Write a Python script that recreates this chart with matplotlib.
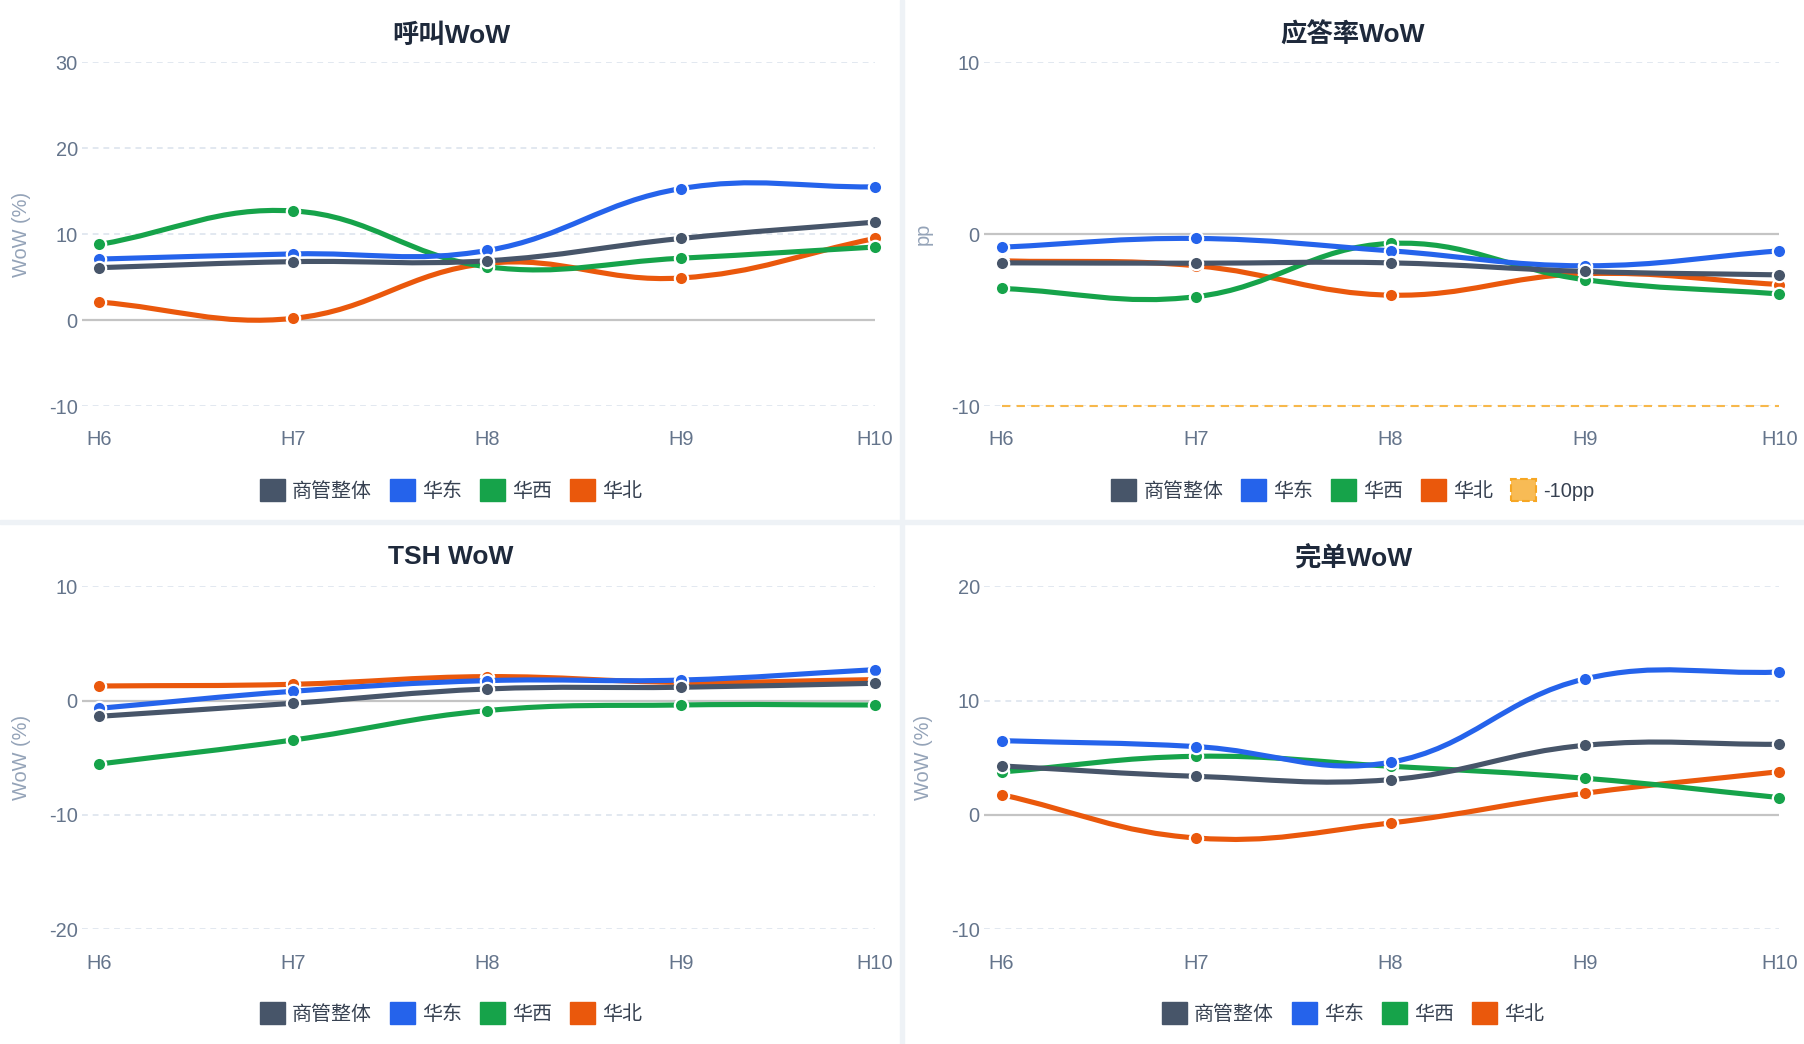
import numpy as np
import matplotlib
matplotlib.use('Agg')
import matplotlib.pyplot as plt
from matplotlib.path import Path
from matplotlib.patches import PathPatch, Patch, Rectangle

plt.rcParams['font.family'] = ['Liberation Sans', 'Noto Sans CJK SC', 'DejaVu Sans']
plt.rcParams['axes.unicode_minus'] = False

# ---- data ----
hours = ['H6', 'H7', 'H8', 'H9', 'H10']
series_names = ['商管整体', '华东', '华西', '华北']
series_colors = ['#475569', '#2563eb', '#16a34a', '#ea580c']

# rows: 商管整体, 华东, 华西, 华北
call_wow = [
    [6.1, 6.8, 6.9, 9.5, 11.4],
    [7.1, 7.7, 8.1, 15.3, 15.5],
    [8.8, 12.7, 6.2, 7.2, 8.5],
    [2.1, 0.2, 6.6, 4.9, 9.5],
]
answer_wow = [
    [-1.67, -1.69, -1.67, -2.17, -2.37],
    [-0.76, -0.25, -0.97, -1.84, -0.97],
    [-3.16, -3.64, -0.54, -2.65, -3.48],
    [-1.55, -1.84, -3.55, -2.3, -2.93],
]
answer_threshold = [-10, -10, -10, -10, -10]
tsh_wow = [
    [-1.37, -0.23, 1.02, 1.17, 1.52],
    [-0.67, 0.82, 1.75, 1.8, 2.71],
    [-5.54, -3.44, -0.87, -0.38, -0.38],
    [1.28, 1.43, 2.1, 1.6, 1.84],
]
order_wow = [
    [4.29, 3.38, 3.09, 6.09, 6.18],
    [6.5, 5.98, 4.61, 11.9, 12.5],
    [3.76, 5.13, 4.26, 3.21, 1.52],
    [1.78, -2.01, -0.7, 1.9, 3.79],
]

W, H = 1804, 1044
fig = plt.figure(figsize=(W / 100, H / 100), dpi=100)
fig.patch.set_facecolor('white')

FS = 14.4
TICK_C = '#64748b'
YLAB_C = '#94a3b8'


def make_axes(left, top, right, bottom):
    return fig.add_axes([left / W, 1 - bottom / H, (right - left) / W, (bottom - top) / H])


def smooth_line(ax, xs, ys, color, lw, z, tension=0.4, **kw):
    # chart.js style bezier through the points, computed in pixel space
    px = ax.transData.transform(np.column_stack([xs, ys]))
    n = len(px)
    cps = []
    for i in range(n):
        cur = px[i]
        prev = px[i - 1] if i > 0 else cur
        nxt = px[i + 1] if i < n - 1 else cur
        d01 = np.hypot(*(cur - prev))
        d12 = np.hypot(*(nxt - cur))
        tot = d01 + d12
        s01 = d01 / tot if tot else 0
        s12 = d12 / tot if tot else 0
        cps.append((cur - tension * s01 * (nxt - prev), cur + tension * s12 * (nxt - prev)))
    verts = [px[0]]
    codes = [Path.MOVETO]
    for i in range(1, n):
        verts += [cps[i - 1][1], cps[i][0], px[i]]
        codes += [Path.CURVE4] * 3
    verts = ax.transData.inverted().transform(np.array(verts))
    patch = PathPatch(Path(verts, codes), facecolor='none', edgecolor=color, lw=lw,
                      zorder=z, clip_on=False, capstyle='round', joinstyle='round', **kw)
    ax.add_patch(patch)


def panel(box, title, data, ylim, ylabel, center_x, title_y, legend_y, extra=None):
    ax = make_axes(*box)
    ax.set_xlim(-0.09, 4)
    ax.set_ylim(*ylim)
    ticks = np.arange(ylim[0], ylim[1] + 1, 10)
    ax.set_yticks(ticks)
    ax.set_xticks(range(len(hours)))
    ax.set_xticklabels(hours)
    for s in ax.spines.values():
        s.set_visible(False)
    ax.tick_params(axis='both', length=0, labelsize=FS, labelcolor=TICK_C)
    ax.tick_params(axis='x', pad=17.5)
    ax.tick_params(axis='y', pad=3)
    for t in ticks:
        if t == 0:
            ax.axhline(0, color='#c4c4c4', lw=1.6, zorder=2)
        else:
            ax.axhline(t, color='#e2e8f0', lw=1.4, dashes=(3, 2.5), zorder=1)
    ax.set_ylabel(ylabel, fontsize=FS, color=YLAB_C)
    panel_left = center_x - 451
    ax.yaxis.set_label_coords((panel_left + 31 - box[0]) / (box[2] - box[0]), 0.5)
    xs = np.arange(len(hours))
    handles = []
    for i, (name, col, vals) in enumerate(zip(series_names, series_colors, data)):
        z = 20 - 2 * i
        smooth_line(ax, xs, vals, col, 3.7, z)
        ax.plot(xs, vals, 'o', ms=9.6, mfc=col, mec='white', mew=1.6, zorder=z + 1, clip_on=False)
        handles.append(Patch(facecolor=col, edgecolor=col, label=name))
    if extra is not None:
        vals, name = extra
        ax.plot(xs, vals, color='#f7b84b', lw=1.5, dashes=(4, 3), zorder=5, clip_on=False)
        handles.append(Patch(facecolor='#f8bb55', edgecolor='#f6a623', linestyle='--', lw=1.5, label=name))
    fig.text(center_x / W, 1 - title_y / H, title, ha='center', va='center',
             fontsize=19, fontweight='bold', color='#1e293b')
    fig.legend(handles=handles, loc='center', bbox_to_anchor=(center_x / W, 1 - legend_y / H),
               ncol=len(handles), frameon=False, fontsize=FS, handlelength=1.25, handleheight=1.25,
               handletextpad=0.35, columnspacing=0.9, labelcolor='#374151', borderaxespad=0)
    return ax


panel((82, 62.3, 875, 406), '呼叫WoW', call_wow, (-10, 30), 'WoW (%)', 451, 35.5, 490)
panel((984, 62.3, 1779.5, 406), '应答率WoW', answer_wow, (-10, 10), 'pp', 1353, 35.5, 490,
      extra=(answer_threshold, '-10pp'))
panel((82, 586.3, 875, 929.3), 'TSH WoW', tsh_wow, (-20, 10), 'WoW (%)', 451, 557.5, 1013)
panel((984, 586.3, 1779.5, 929.3), '完单WoW', order_wow, (-10, 20), 'WoW (%)', 1353, 557.5, 1013)

# card separators
sep = '#eef2f6'
fig.add_artist(Rectangle((900 / W, 0), 4 / W, 1, transform=fig.transFigure, color=sep, zorder=0))
fig.add_artist(Rectangle((0, 1 - 524 / H), 1, 4 / H, transform=fig.transFigure, color=sep, zorder=0))

fig.savefig('out.png', dpi=100, facecolor='white')
